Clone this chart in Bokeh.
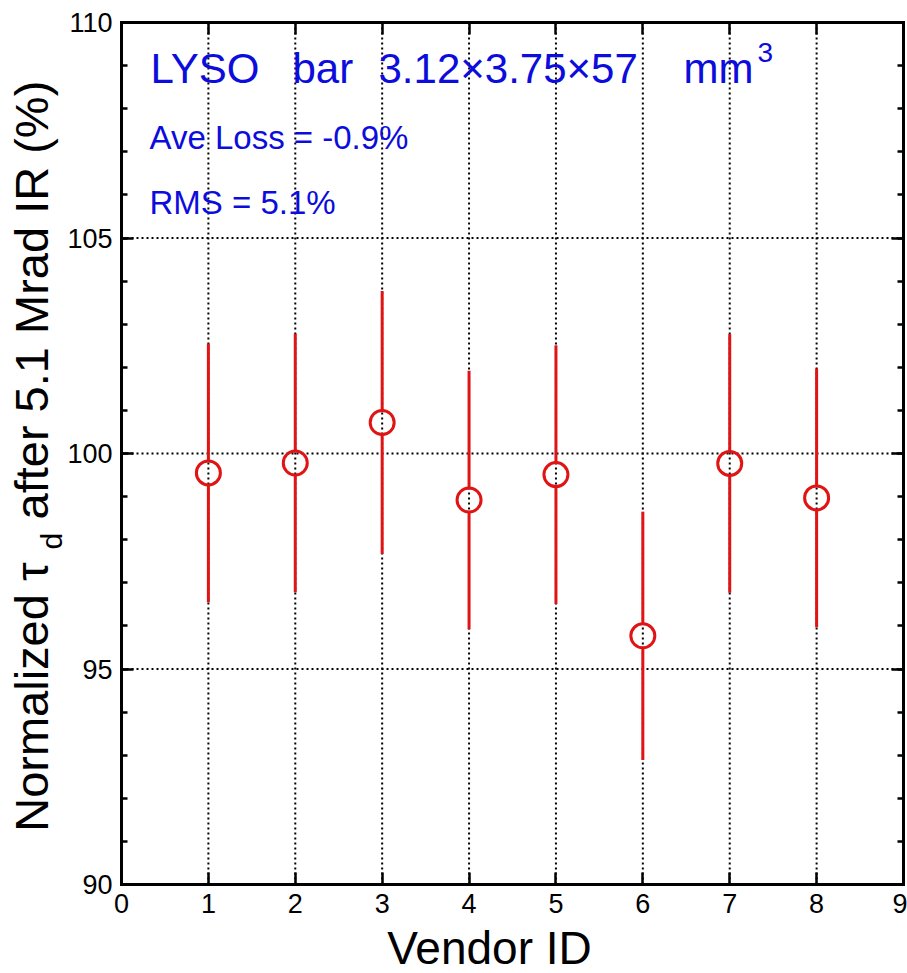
import math
from bokeh.plotting import figure
from bokeh.models import (LinearAxis, SingleIntervalTicker, Label, CustomJSTickFormatter,
                          ColumnDataSource, Range1d)
from bokeh.embed import file_html
from bokeh.resources import INLINE

# ---- data ----
vendor_id = [1, 2, 3, 4, 5, 6, 7, 8]
tau_norm = [99.55, 99.78, 100.72, 98.92, 99.51, 95.77, 99.77, 98.97]
tau_err = [3.0, 3.0, 3.05, 3.0, 3.0, 2.88, 3.0, 3.0]
x_ticks = [0, 1, 2, 3, 4, 5, 6, 7, 8, 9]
y_ticks = [90, 95, 100, 105, 110]
title_words = ["LYSO", "bar", "3.12\u00d73.75\u00d757", "mm"]
title_sup = "3"
ave_loss_text = "Ave Loss = -0.9%"
rms_text = "RMS = 5.1%"
x_label = "Vendor ID"
y_label_a = "Normalized \u03c4"
y_label_sub = "d"
y_label_b = "after 5.1 Mrad IR (%)"

FONT = "Liberation Sans"
RED = "#e01414"
BLUE = "#0c0cdc"

W, H = 907, 973
# pixel box of the data area inside the page
BL, BR, BT, BB = 121, 4, 22, 89
XMIN, XMAX, YMIN, YMAX = x_ticks[0], x_ticks[-1], y_ticks[0], y_ticks[-1]
px_per_x = (W - BL - BR) / (XMAX - XMIN)
px_per_y = (H - BT - BB) / (YMAX - YMIN)
BASE_SHIFT = 0.4  # label anchor sits this many em above the drawn baseline

def dx(px):
    return XMIN + (px - BL) / px_per_x

def dy(py):
    return YMAX - (py - BT) / px_per_y

# the frame covers the whole page so that the titles placed beside the box are drawn
p = figure(width=W, height=H, output_backend="svg", toolbar_location=None,
           x_range=Range1d(dx(0), dx(W)), y_range=Range1d(dy(H), dy(0)),
           min_border=0, x_axis_type=None, y_axis_type=None)
p.background_fill_color = "white"
p.border_fill_color = "white"
p.outline_line_color = None

def style_axis(ax, ticker, show_labels):
    ax.ticker = ticker
    ax.axis_line_width = 3
    ax.axis_line_color = "black"
    ax.axis_line_cap = "square"
    ax.major_tick_in = 12
    ax.major_tick_out = 0
    ax.minor_tick_in = 6
    ax.minor_tick_out = 0
    ax.major_tick_line_width = 2.5
    ax.minor_tick_line_width = 2.5
    ax.major_tick_line_color = "black"
    ax.minor_tick_line_color = "black"
    if show_labels:
        ax.major_label_text_font = FONT
        ax.major_label_text_font_size = "27px"
        ax.major_label_text_color = "black"
        ax.major_label_standoff = 9
    else:
        ax.formatter = CustomJSTickFormatter(code="return ''")
        ax.major_label_text_font_size = "0px"
        ax.major_label_standoff = 0

xt = lambda: SingleIntervalTicker(interval=1, num_minor_ticks=0)
yt = lambda: SingleIntervalTicker(interval=5, num_minor_ticks=5)

ax_b = LinearAxis(fixed_location=YMIN, bounds=(XMIN, XMAX))
style_axis(ax_b, xt(), True); p.add_layout(ax_b, "below")
ax_l = LinearAxis(fixed_location=XMIN, bounds=(YMIN, YMAX))
style_axis(ax_l, yt(), True); p.add_layout(ax_l, "left")
ax_t = LinearAxis(fixed_location=YMAX, bounds=(XMIN, XMAX))
style_axis(ax_t, xt(), False); p.add_layout(ax_t, "above")
ax_r = LinearAxis(fixed_location=XMAX, bounds=(YMIN, YMAX))
style_axis(ax_r, yt(), False); p.add_layout(ax_r, "right")

# dotted grid at major ticks
grid_x = [v for v in x_ticks if XMIN < v < XMAX]
grid_y = [v for v in y_ticks if YMIN < v < YMAX]
p.segment(x0=grid_x, y0=[YMIN] * len(grid_x), x1=grid_x, y1=[YMAX] * len(grid_x),
          line_color="black", line_width=2, line_dash="2 3")
p.segment(x0=[XMIN] * len(grid_y), y0=grid_y, x1=[XMAX] * len(grid_y), y1=grid_y,
          line_color="black", line_width=2, line_dash="2 3")

# error bars (drawn outside the open circles)
marker_d = 24
gap = (marker_d / 2) / px_per_y
src = ColumnDataSource(dict(
    x=vendor_id, y=tau_norm,
    top=[v + e for v, e in zip(tau_norm, tau_err)],
    bot=[v - e for v, e in zip(tau_norm, tau_err)],
    up0=[v + gap for v in tau_norm],
    lo1=[v - gap for v in tau_norm],
))
p.segment(x0="x", y0="up0", x1="x", y1="top", source=src, line_color=RED, line_width=3)
p.segment(x0="x", y0="bot", x1="x", y1="lo1", source=src, line_color=RED, line_width=3)
p.scatter(x="x", y="y", source=src, marker="circle", size=marker_d,
          fill_color=None, line_color=RED, line_width=3)

def hlabel(text, xp, base_py, fs, color, align="left"):
    p.add_layout(Label(x=dx(xp), y=dy(base_py - BASE_SHIFT * fs), text=text,
                       text_font=FONT, text_font_size=f"{fs}px", text_color=color,
                       text_align=align, text_baseline="alphabetic"))

def vlabel(text, base_px, yp, fs, align):
    p.add_layout(Label(x=dx(base_px - BASE_SHIFT * fs), y=dy(yp), text=text,
                       angle=math.pi / 2, text_font=FONT, text_font_size=f"{fs}px",
                       text_color="black", text_align=align, text_baseline="alphabetic"))

# annotations in the box
title_px = [150, 292, 378, 683]
for word, xp in zip(title_words, title_px):
    hlabel(word, xp, 85, 42, BLUE)
hlabel(title_sup, 757, 63, 28, BLUE)
hlabel(ave_loss_text, 149, 150, 33, BLUE)
hlabel(rms_text, 149, 215, 33, BLUE)

# axis titles
hlabel(x_label, 489, 966, 46, "black", align="center")
vlabel(y_label_a, 50, 562, 47, "right")
vlabel(y_label_sub, 63, 549, 30, "left")
vlabel(y_label_b, 50, 519, 47, "left")

open("out.html", "w").write(file_html(p, INLINE))
